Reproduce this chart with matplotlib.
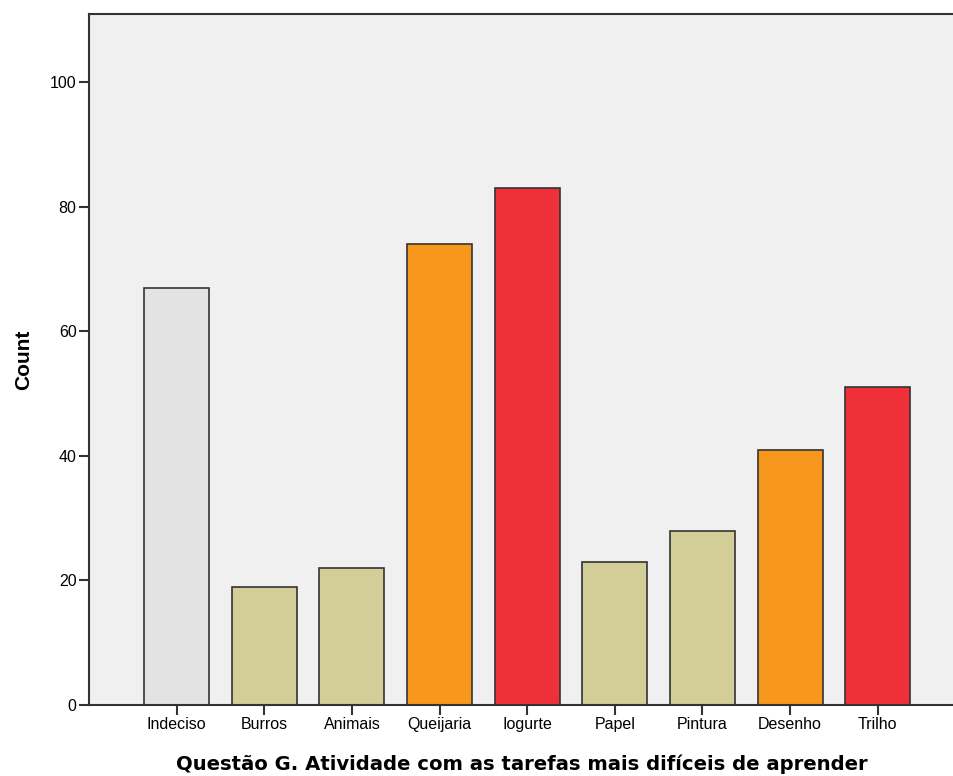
import matplotlib
matplotlib.use("Agg")
import matplotlib.pyplot as plt

# ---------- Data ----------
categories = ["Indeciso", "Burros", "Animais", "Queijaria", "Iogurte",
              "Papel", "Pintura", "Desenho", "Trilho"]
counts = [67, 19, 22, 74, 83, 23, 28, 41, 51]
bar_colors = ["#E3E3E3", "#D3CE97", "#D3CE97", "#F7981D", "#EF3038",
              "#D3CE97", "#D3CE97", "#F7981D", "#EF3038"]
y_ticks = [0, 20, 40, 60, 80, 100]

plt.rcParams["font.family"] = ["Liberation Sans", "DejaVu Sans"]

fig = plt.figure(figsize=(9.54, 7.76), dpi=100)
ax = fig.add_axes([0.0933, 0.0915, 0.9067, 0.8905])
ax.set_facecolor("#F0F0F0")

x = list(range(len(categories)))
ax.bar(x, counts, width=0.74, color=bar_colors, edgecolor="#333333", linewidth=1.2)

ax.set_xlim(-1.0, 8.87)
ax.set_ylim(0, 111)
ax.set_xticks(x)
ax.set_xticklabels(categories, fontsize=11.5)
ax.set_yticks(y_ticks)
ax.set_yticklabels([str(v) for v in y_ticks], fontsize=11.5)
ax.tick_params(axis="both", direction="out", length=7, width=1.5, color="#333333", pad=2)

for side in ["left", "top", "bottom"]:
    ax.spines[side].set_color("#333333")
    ax.spines[side].set_linewidth(1.5)
ax.spines["right"].set_visible(False)

ax.set_ylabel("Count", fontsize=15, fontweight="bold", labelpad=12)
ax.set_xlabel("Questão G. Atividade com as tarefas mais difíceis de aprender",
              fontsize=14.1, fontweight="bold", family="DejaVu Sans", labelpad=16)

fig.savefig("out.png", dpi=100)
